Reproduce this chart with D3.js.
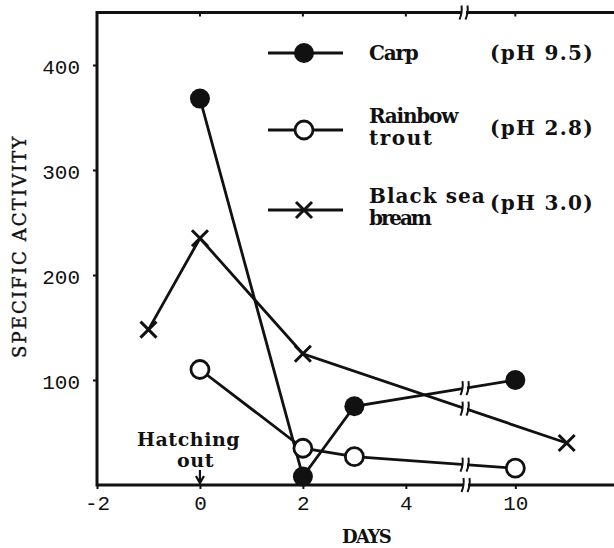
<!DOCTYPE html>
<html>
<head>
<meta charset="utf-8">
<script src="https://cdn.jsdelivr.net/npm/d3@7"></script>
<style>
  html, body { margin: 0; padding: 0; background: #fff; }
  svg { display: block; }
  .tick text { font-family: "Liberation Mono", monospace; font-size: 21px; fill: #111; }
</style>
</head>
<body>
<div id="chart"></div>
<script>
// values
const carpDays = [0, 2, 3, 10];
const carpValues = [368, 8, 75, 100];
const troutDays = [0, 2, 3, 10];
const troutValues = [110, 35, 27, 16];
const breamDays = [-1, 0, 2, 11];
const breamValues = [148, 235, 125, 40];

const xTicks = [-2, 0, 2, 4, 10];
const yTicks = [100, 200, 300, 400];

const legendNames = [['Carp'], ['Rainbow', 'trout'], ['Black sea', 'bream']];
const legendPh = ['(pH 9.5)', '(pH 2.8)', '(pH 3.0)'];

const W = 614, H = 548;
const ink = '#111';
const serif = '"DejaVu Serif", "Liberation Serif", serif';
const PITCH = 13.2; // typewriter character pitch in px

const svg = d3.select('#chart').append('svg')
    .attr('width', W).attr('height', H);

// typewriter-like text: serif face stretched to a fixed pitch
function typed(sel, str, size, bold) {
    return sel.attr('font-family', serif)
        .attr('font-size', size)
        .attr('font-weight', bold ? 'bold' : 'normal')
        .attr('textLength', str.length * PITCH - 3)
        .attr('lengthAdjust', 'spacing')
        .text(str);
}

// broken x axis: days 5.13..9 collapse onto one point
const x = d3.scaleLinear()
    .domain([-2, 5.13, 9.0, 12.0])
    .range([97, 464, 464, 618]);
const y = d3.scaleLinear()
    .domain([0, 450])
    .range([485, 12.5]);

const xBreak = x(5.13);

// axis ticks
const gy = svg.append('g')
    .attr('transform', `translate(${x(-2)},0)`)
    .call(d3.axisLeft(y).tickValues(yTicks).tickSize(4).tickPadding(13));
gy.select('.domain').remove();
gy.selectAll('.tick line').attr('stroke', ink).attr('stroke-width', 2);
gy.selectAll('.tick text').attr('dy', '0.4em');

const gx = svg.append('g')
    .attr('transform', `translate(0,${y(0)})`)
    .call(d3.axisBottom(x).tickValues(xTicks).tickSize(4).tickPadding(6)
        .tickFormat(d => d < 0 ? '-' + Math.abs(d) : d));
gx.select('.domain').remove();
gx.selectAll('.tick line').attr('stroke', ink).attr('stroke-width', 2);

// small inward ticks on top frame
svg.append('g').selectAll('line')
    .data([0, 2, 4, 10])
    .join('line')
    .attr('x1', d => x(d)).attr('x2', d => x(d))
    .attr('y1', y(450)).attr('y2', y(450) + 4)
    .attr('stroke', ink).attr('stroke-width', 2);

// frame: left, top, bottom
const frame = svg.append('g')
    .attr('stroke', ink).attr('stroke-width', 3).attr('fill', 'none');
frame.append('line')
    .attr('x1', x(-2)).attr('x2', x(-2))
    .attr('y1', y(450) - 1.5).attr('y2', y(0) + 1.5);
frame.append('line')
    .attr('x1', x(-2)).attr('x2', W)
    .attr('y1', y(450)).attr('y2', y(450));
frame.append('line')
    .attr('x1', x(-2)).attr('x2', W)
    .attr('y1', y(0)).attr('y2', y(0));

function breakMark(bx, by) {
    const g = svg.append('g');
    g.append('rect')
        .attr('x', bx - 2).attr('y', by - 6)
        .attr('width', 4).attr('height', 12)
        .attr('fill', '#fff');
    [-3, 3].forEach(off => {
        g.append('path')
            .attr('d', `M${bx + off - 1.5},${by + 7} Q${bx + off + 1.5},${by} ${bx + off + 0.5},${by - 7}`)
            .attr('fill', 'none')
            .attr('stroke', ink)
            .attr('stroke-width', 2);
    });
}

breakMark(xBreak, y(450));
breakMark(xBreak + 2, y(0));

// series
const series = [
    { days: carpDays, values: carpValues, marker: 'filled' },
    { days: troutDays, values: troutValues, marker: 'open' },
    { days: breamDays, values: breamValues, marker: 'cross' }
];

const line = d3.line().x(d => x(d[0])).y(d => y(d[1]));

function drawMarker(g, type, cx, cy) {
    if (type === 'filled') {
        g.append('circle').attr('cx', cx).attr('cy', cy).attr('r', 10).attr('fill', ink);
    } else if (type === 'open') {
        g.append('circle').attr('cx', cx).attr('cy', cy).attr('r', 9)
            .attr('fill', '#fff').attr('stroke', ink).attr('stroke-width', 2.8);
    } else {
        const s = 8;
        g.append('path')
            .attr('d', `M${cx - s},${cy - s}L${cx + s},${cy + s}M${cx - s},${cy + s}L${cx + s},${cy - s}`)
            .attr('stroke', ink).attr('stroke-width', 3).attr('fill', 'none');
    }
}

series.forEach(s => {
    const pts = s.days.map((d, i) => [d, s.values[i]]);
    svg.append('path')
        .datum(pts)
        .attr('d', line)
        .attr('fill', 'none')
        .attr('stroke', ink)
        .attr('stroke-width', 2.8);

    // break marks where a segment passes through the gap
    for (let i = 1; i < pts.length; i++) {
        const x0 = x(pts[i - 1][0]), x1 = x(pts[i][0]);
        if (x0 < xBreak && x1 > xBreak) {
            const t = (xBreak + 1 - x0) / (x1 - x0);
            const by = y(pts[i - 1][1]) + t * (y(pts[i][1]) - y(pts[i - 1][1]));
            breakMark(xBreak + 1, by);
        }
    }

    const g = svg.append('g');
    pts.forEach(p => drawMarker(g, s.marker, x(p[0]), y(p[1])));
});

// legend
const legendY = [53, 130, 210];
const phDy = [7, 5, 0];
const legend = svg.append('g').attr('fill', ink);
series.forEach((s, i) => {
    const ly = legendY[i];
    legend.append('line')
        .attr('x1', 268).attr('x2', 343)
        .attr('y1', ly).attr('y2', ly)
        .attr('stroke', ink).attr('stroke-width', 2.8);
    drawMarker(legend, s.marker, 304, ly);

    const names = legendNames[i];
    if (names.length === 1) {
        typed(legend.append('text').attr('x', 369).attr('y', ly + 7), names[0], 20, true);
    } else {
        typed(legend.append('text').attr('x', 369).attr('y', ly - 7), names[0], 20, true);
        typed(legend.append('text').attr('x', 369).attr('y', ly + 15), names[1], 20, true);
    }
    typed(legend.append('text').attr('x', 490).attr('y', ly + phDy[i]), legendPh[i], 20, true);
});

// hatching annotation
typed(svg.append('text').attr('x', 137).attr('y', 446).attr('fill', ink), 'Hatching', 19, true);
typed(svg.append('text').attr('x', 177).attr('y', 467).attr('fill', ink), 'out', 19, true);

svg.append('path')
    .attr('d', `M${x(0)},470V${y(0) - 2}M${x(0) - 4},${y(0) - 9}L${x(0)},${y(0) - 2}L${x(0) + 4},${y(0) - 9}`)
    .attr('fill', 'none').attr('stroke', ink).attr('stroke-width', 2.2);

// axis titles
typed(svg.append('text').attr('x', 342).attr('y', 543).attr('fill', ink), 'DAYS', 18, true);

typed(svg.append('text')
    .attr('transform', 'translate(26,358) rotate(-90)')
    .attr('fill', ink)
    .attr('stroke', ink)
    .attr('stroke-width', 0.4), 'SPECIFIC ACTIVITY', 18, false);
</script>
</body>
</html>
